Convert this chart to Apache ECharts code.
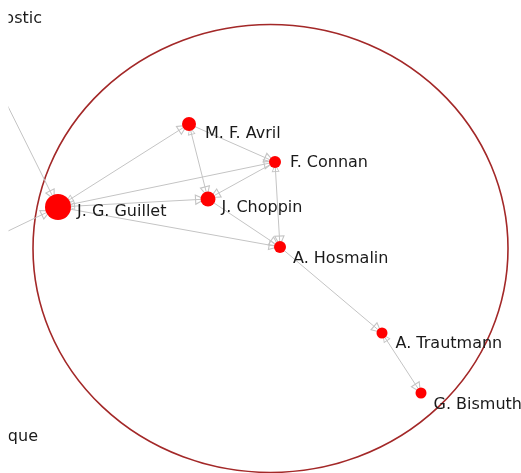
<!DOCTYPE html>
<html>
<head>
<meta charset="utf-8">
<script src="https://cdn.jsdelivr.net/npm/echarts@6/dist/echarts.min.js"></script>
<style>
  html, body { margin: 0; padding: 0; background: #fff; }
  #chart { width: 521px; height: 473px; }
</style>
</head>
<body>
<div id="chart"></div>
<script>
// authors (nodes) and their place on the map
const nodeNames = ['J. G. Guillet', 'M. F. Avril', 'F. Connan', 'J. Choppin', 'A. Hosmalin', 'A. Trautmann', 'G. Bismuth', 'Diagnostic', 'Thérapeutique', 'Autre'];
const nodeX = [58, 189, 275, 208, 280, 382, 421, -40, -40, -100];
const nodeY = [207, 124, 162, 199, 247, 333, 393, 10, 436, 283];
const nodeWeight = [13, 7, 6, 7.5, 6, 5.5, 5.5, 6, 6, 6];

// co-authoring links, arrow on the target end (both = arrows on both ends)
const linkSource = ['J. G. Guillet', 'J. G. Guillet', 'J. G. Guillet', 'J. G. Guillet', 'M. F. Avril', 'M. F. Avril', 'F. Connan', 'F. Connan', 'J. Choppin', 'A. Hosmalin', 'A. Trautmann', 'Diagnostic', 'Autre'];
const linkTarget = ['M. F. Avril', 'F. Connan', 'J. Choppin', 'A. Hosmalin', 'F. Connan', 'J. Choppin', 'J. Choppin', 'A. Hosmalin', 'A. Hosmalin', 'A. Trautmann', 'G. Bismuth', 'J. G. Guillet', 'J. G. Guillet'];
const linkBoth = [true, true, true, false, false, true, false, true, false, false, true, false, true];

// label placement: [distance, dy] for right-side labels
const labelPlace = {
  'J. G. Guillet': [6, 5],
  'M. F. Avril': [9, 10],
  'F. Connan': [9, 1],
  'J. Choppin': [6, 9],
  'A. Hosmalin': [7, 12],
  'A. Trautmann': [8, 11],
  'G. Bismuth': [7, 12]
};

const hollowArrow = 'path://M5,0 L10,14 L0,14 Z M5,3 L1.6,12.6 L8.4,12.6 Z';

const chart = echarts.init(document.getElementById('chart'));

const nodes = nodeNames.map((name, i) => {
  const item = {
    name: name,
    value: [nodeX[i], nodeY[i]],
    symbolSize: nodeWeight[i] * 2
  };
  if (labelPlace[name]) {
    item.label = {
      show: true,
      position: 'right',
      distance: labelPlace[name][0],
      offset: [0, labelPlace[name][1]]
    };
  } else if (name === 'Diagnostic') {
    // nodes off the left edge: only the end of their label shows
    item.label = { show: true, position: [88, 15], align: 'right', verticalAlign: 'middle' };
  } else if (name === 'Thérapeutique') {
    item.label = { show: true, position: [84, 7], align: 'right', verticalAlign: 'middle' };
  }
  return item;
});

const links = linkSource.map((s, i) => ({
  source: s,
  target: linkTarget[i],
  symbol: [linkBoth[i] ? hollowArrow : 'none', hollowArrow]
}));

let option = {
  animation: false,
  grid: { left: 0, right: 0, top: 0, bottom: 0 },
  xAxis: { type: 'value', min: 0, max: 521, show: false },
  yAxis: { type: 'value', min: 0, max: 473, inverse: true, show: false },
  graphic: [
    {
      type: 'circle',
      z: 1,
      shape: { cx: 270.5, cy: 248.5, r: 237.5 },
      originX: 270.5,
      originY: 248.5,
      scaleY: 224 / 237.5,
      style: { fill: 'none', stroke: '#a32828', lineWidth: 1.6 },
      silent: true
    },
    {
      // the view is cut a few pixels in from the left border
      type: 'rect',
      z: 100,
      shape: { x: 0, y: 0, width: 8.5, height: 473 },
      style: { fill: '#ffffff' },
      silent: true
    }
  ],
  series: [
    {
      type: 'graph',
      layout: 'none',
      coordinateSystem: 'cartesian2d',
      z: 3,
      itemStyle: { color: '#ff0000' },
      label: {
        show: false,
        color: '#1a1a1a',
        fontFamily: 'DejaVu Sans',
        fontSize: 16
      },
      edgeSymbolSize: [8, 11],
      lineStyle: { color: '#c4c4c4', width: 1, opacity: 1 },
      data: nodes,
      links: links
    }
  ]
};
chart.setOption(option);
</script>
</body>
</html>
